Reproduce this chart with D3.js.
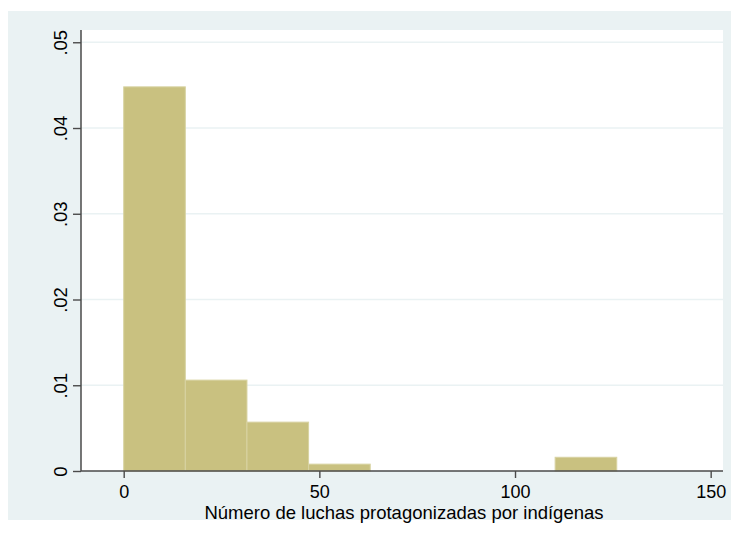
<!DOCTYPE html>
<html>
<head>
<meta charset="utf-8">
<script src="https://cdn.jsdelivr.net/npm/d3@7"></script>
<style>
  html, body { margin: 0; padding: 0; background: #ffffff; }
  svg { display: block; }
  text { font-family: "Liberation Sans", Arial, sans-serif; fill: #000; }
</style>
</head>
<body>
<svg id="chart" width="731" height="537"></svg>
<script>
// Histogram bins (left and right edges) and their densities
const binEdges = [0, 15.75, 31.5, 47.25, 63, 78.75, 94.5, 110.25, 126];
const density = [0.0448, 0.0106, 0.0057, 0.0008, 0, 0, 0, 0.0016];

const xTicks = [0, 50, 100, 150];
const yTicks = [0, 0.01, 0.02, 0.03, 0.04, 0.05];
const yTickLabels = ["0", ".01", ".02", ".03", ".04", ".05"];
const xTitle = "Número de luchas protagonizadas por indígenas";

const W = 731, H = 537;
const plot = { left: 81, right: 723, top: 30, bottom: 471 };
const FONT = 18.5;
const TICK_FONT = 18;

const svg = d3.select("#chart");

// graph region background
svg.append("rect")
  .attr("x", 8).attr("y", 11)
  .attr("width", W - 8).attr("height", 520 - 11)
  .attr("fill", "#eaf2f3");

// plot region
svg.append("rect")
  .attr("x", plot.left).attr("y", plot.top)
  .attr("width", plot.right - plot.left).attr("height", plot.bottom - plot.top)
  .attr("fill", "#ffffff");

const x = d3.scaleLinear().domain([-10.91, 153.15]).range([plot.left, plot.right]);
const y = d3.scaleLinear().domain([0, 0.05143]).range([plot.bottom, plot.top]);

// horizontal grid lines
svg.append("g")
  .selectAll("line")
  .data(yTicks.filter(d => d > 0))
  .join("line")
  .attr("x1", plot.left).attr("x2", plot.right)
  .attr("y1", d => y(d)).attr("y2", d => y(d))
  .attr("stroke", "#eaf2f3")
  .attr("stroke-width", 1.6);

// bars
const bins = density.map((v, i) => ({ x0: binEdges[i], x1: binEdges[i + 1], v }));
svg.append("g")
  .selectAll("rect")
  .data(bins.filter(d => d.v > 0))
  .join("rect")
  .attr("x", d => x(d.x0))
  .attr("y", d => y(d.v))
  .attr("width", d => x(d.x1) - x(d.x0))
  .attr("height", d => y(0) - y(d.v))
  .attr("fill", "#c9c180")
  .attr("stroke", "#d8d3a2")
  .attr("stroke-width", 1);

// y axis
const yAxis = d3.axisLeft(y)
  .tickValues(yTicks)
  .tickFormat((d, i) => yTickLabels[i])
  .tickSize(8)
  .tickPadding(0);
const gy = svg.append("g").attr("transform", `translate(${plot.left},0)`).call(yAxis);
gy.select(".domain").remove();
gy.selectAll(".tick line").attr("stroke", "#4a4a4a").attr("stroke-width", 1.4);
gy.selectAll(".tick text")
  .attr("x", null).attr("dy", null)
  .attr("text-anchor", "middle")
  .attr("transform", "translate(-14,0) rotate(-90)")
  .attr("font-size", FONT)
  .attr("font-family", "'Liberation Sans', Arial, sans-serif")
  .attr("fill", "#000");
svg.append("line")
  .attr("x1", plot.left).attr("x2", plot.left)
  .attr("y1", plot.top).attr("y2", plot.bottom)
  .attr("stroke", "#4a4a4a").attr("stroke-width", 1.5);

// x axis
const xAxis = d3.axisBottom(x).tickValues(xTicks).tickSize(7).tickPadding(8);
const gx = svg.append("g").attr("transform", `translate(0,${plot.bottom})`).call(xAxis);
gx.select(".domain").remove();
gx.selectAll(".tick line").attr("stroke", "#4a4a4a").attr("stroke-width", 1.4);
gx.selectAll(".tick text")
  .attr("dy", null).attr("y", 26.5)
  .attr("font-size", TICK_FONT)
  .attr("font-family", "'Liberation Sans', Arial, sans-serif")
  .attr("fill", "#000");
svg.append("line")
  .attr("x1", plot.left).attr("x2", plot.right)
  .attr("y1", plot.bottom).attr("y2", plot.bottom)
  .attr("stroke", "#4a4a4a").attr("stroke-width", 1.5);

// x axis title
svg.append("text")
  .attr("x", (plot.left + plot.right) / 2 + 2)
  .attr("y", 518.5)
  .attr("text-anchor", "middle")
  .attr("font-size", FONT)
  .text(xTitle);
</script>
</body>
</html>
